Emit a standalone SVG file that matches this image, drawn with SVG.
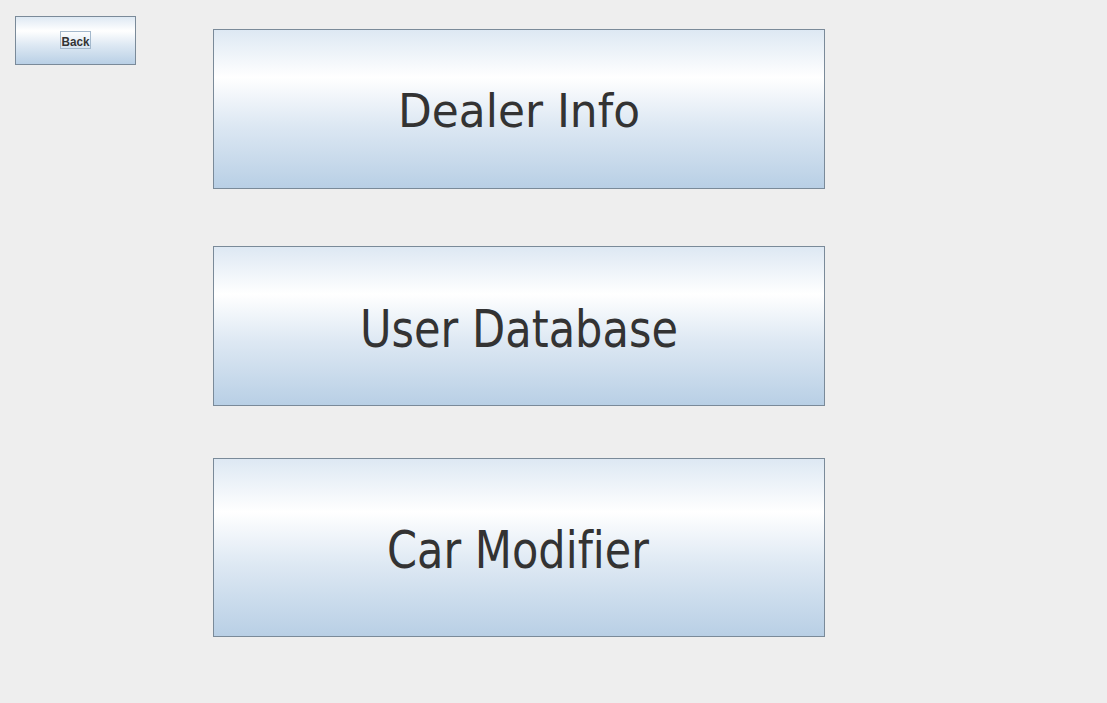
<svg xmlns="http://www.w3.org/2000/svg" width="1107" height="703" viewBox="0 0 1107 703">
<defs>
<linearGradient id="btn" x1="0" y1="0" x2="0" y2="1">
<stop offset="0" stop-color="#DDE8F3"/>
<stop offset="0.3" stop-color="#FFFFFF"/>
<stop offset="0.6" stop-color="#DDE8F3"/>
<stop offset="1" stop-color="#B8CFE5"/>
</linearGradient>
<style>
.b{fill:url(#btn);stroke:#7A8A99;stroke-width:1}
.t{font-family:"DejaVu Sans","Liberation Sans",sans-serif;fill:#333333;text-anchor:middle;font-variant-ligatures:none}
.bk{font-family:"Liberation Sans","DejaVu Sans",sans-serif;font-weight:bold;font-size:12.5px;fill:#333333;text-anchor:middle}
</style>
</defs>
<rect width="1107" height="703" fill="#EEEEEE"/>
<g id="back">
<rect class="b" x="15.5" y="16.5" width="120" height="48"/>
<rect x="60.5" y="31.5" width="30" height="17" fill="none" stroke="#A3B8CC" stroke-width="1"/>
<text class="bk" x="75.5" y="45.5" textLength="28" lengthAdjust="spacingAndGlyphs">Back</text>
</g>
<g id="dealer-info">
<rect class="b" x="213.5" y="29.5" width="611" height="159"/>
<text class="t" x="519" y="127" font-size="47" textLength="242" lengthAdjust="spacingAndGlyphs">Dealer Info</text>
</g>
<g id="user-database">
<rect class="b" x="213.5" y="246.5" width="611" height="159"/>
<text class="t" x="519" y="347" font-size="51" textLength="318" lengthAdjust="spacingAndGlyphs">User Database</text>
</g>
<g id="car-modifier">
<rect class="b" x="213.5" y="458.5" width="611" height="178"/>
<text class="t" x="518" y="568" font-size="51" textLength="262" lengthAdjust="spacingAndGlyphs">Car Modifier</text>
</g>
<g id="connectors"/>
</svg>
